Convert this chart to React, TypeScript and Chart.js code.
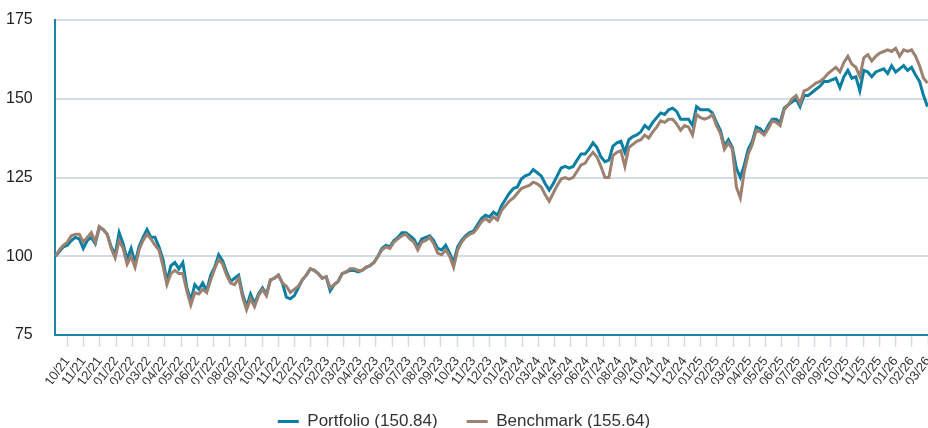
import React, { useEffect, useRef } from "react";
import { Chart, registerables } from "chart.js";

Chart.register(...registerables);

// Month tick labels (x axis, one per month, starting at 10/21)
const MONTH_LABELS = [
  "10/21", "11/21", "12/21",
  "01/22", "02/22", "03/22", "04/22", "05/22", "06/22", "07/22", "08/22", "09/22", "10/22", "11/22", "12/22",
  "01/23", "02/23", "03/23", "04/23", "05/23", "06/23", "07/23", "08/23", "09/23", "10/23", "11/23", "12/23",
  "01/24", "02/24", "03/24", "04/24", "05/24", "06/24", "07/24", "08/24", "09/24", "10/24", "11/24", "12/24",
  "01/25", "02/25", "03/25", "04/25", "05/25", "06/25", "07/25", "08/25", "09/25", "10/25", "11/25", "12/25",
  "01/26", "02/26", "03/26",
];

// Samples are roughly weekly: position in months relative to the 10/21 tick
const FIRST_SAMPLE_MONTH = -0.7357;
const SAMPLE_STEP_MONTHS = 0.24523;

const PORTFOLIO_LABEL = "Portfolio (150.84)";
const BENCHMARK_LABEL = "Benchmark (155.64)";

const PORTFOLIO = [
  100, 101.5, 103, 103.5, 105, 106, 105.5, 102.5, 105, 106, 104, 109, 108.5, 107, 103, 100.5,
  107.5, 104, 99, 102.5, 98, 103, 106, 108.5, 106, 106, 103, 99, 92, 97, 98, 96,
  98, 90, 86, 91, 89.5, 91.5, 89, 94, 96.5, 100.5, 98.5, 95, 92, 93, 94, 88,
  84, 88, 85, 88, 90, 88, 92.5, 93, 94, 91.5, 87, 86.5, 87.5, 90, 92.5, 94,
  96, 95.5, 94.5, 93, 93.5, 89, 91, 92, 94.5, 95, 95.5, 95.5, 95, 95.5, 96.5, 97,
  98, 100, 102.5, 103.5, 103, 105, 106, 107.5, 107.5, 106.5, 105.5, 103, 105.5, 106, 106.5, 105,
  102.5, 102, 103.5, 101, 98, 103, 105, 106.5, 107.5, 108, 110, 112, 113, 112.5, 114, 113,
  116, 118, 120, 121.5, 122, 124.5, 125.5, 126, 127.5, 126.5, 125.5, 123, 121, 123, 125.5, 128,
  128.5, 128, 128.5, 130.5, 132.5, 132.5, 134, 136, 134.5, 131.5, 130, 130.5, 135, 136, 136.5, 133,
  137, 138, 138.5, 139.5, 141.5, 140.5, 142.5, 144, 145.5, 145, 146.5, 147, 146, 143.5, 143.5, 143.5,
  141.5, 147.5, 146.5, 146.5, 146.5, 145.5, 142.5, 140, 135, 137, 134.5, 128, 125, 129, 134, 136.5,
  141, 140.5, 139, 141.5, 143.5, 143.5, 142.5, 147, 148, 149, 150, 147.5, 151, 151, 152, 153,
  154, 155.5, 155.5, 156, 156.5, 153.5, 157, 159, 156.5, 157, 152.5, 159, 158.5, 157, 158.5, 159,
  159.5, 158, 160.5, 158.5, 159.5, 160.5, 159, 160, 157.5, 155.5, 151, 147.5,
];

const BENCHMARK = [
  100, 102, 103.5, 104.5, 106.5, 107, 107, 104.5, 106, 107.5, 104.5, 109.5, 108.5, 107, 102.5, 99.5,
  105, 102.5, 97.5, 100, 96.5, 102, 105, 107, 105.5, 103.5, 102, 97, 91, 94.5, 95.5, 94.5,
  94.5, 89, 84.5, 88.5, 88, 89.5, 88.5, 92.5, 96, 99, 97.5, 94, 91.5, 91, 93, 87,
  83, 86.5, 84, 87.5, 89.5, 87.5, 92.5, 93, 94, 91.5, 90.5, 88.5, 89.5, 90.5, 92.5, 94,
  96, 95.5, 94.5, 93, 93.5, 90, 91, 92, 94.5, 95, 96, 96, 95.5, 95.5, 96.5, 97,
  98, 100, 102, 103, 102.5, 104.5, 105.5, 106.5, 107, 105.5, 104.5, 102, 104.5, 105, 106, 104,
  101, 100.5, 102, 100, 96.5, 102, 104.5, 106, 107, 107.5, 109, 111, 112, 111, 112.5, 111.5,
  114.5, 116, 117.5, 118.5, 120, 121.5, 122, 122.5, 123.5, 123, 122, 119.5, 117.5, 120, 122.5, 124.5,
  125, 124.5, 125, 127, 129, 129.5, 131.5, 133, 131.5, 128.5, 125, 125, 132, 133, 133.5, 128.5,
  134.5, 135.5, 136.5, 137, 138.5, 137.5, 139.5, 141, 143, 142.5, 143.5, 143.5, 142, 140, 141.5, 141,
  138.5, 145, 144, 143.5, 144, 145, 141.5, 139, 134, 136, 134, 122, 118.5, 127, 132.5, 135.5,
  140, 139.5, 138.5, 140.5, 143, 142.5, 141.5, 146.5, 148, 150, 151, 148.5, 152.5, 153, 154, 155,
  155.5, 156.5, 158, 159, 160, 158.5, 161.5, 163.5, 161, 160, 157, 163, 164, 162, 163.5, 164.5,
  165, 165.5, 165, 166, 163.5, 165.5, 165, 165.5, 163.5, 160.5, 156.5, 155,
];

const PORTFOLIO_COLOR = "#0b7fa3";
const BENCHMARK_COLOR = "#9c8171";
const FONT_FAMILY = "'Liberation Sans', Arial, Helvetica, sans-serif";

function toPoints(values: number[]) {
  return values.map((v, i) => ({ x: FIRST_SAMPLE_MONTH + i * SAMPLE_STEP_MONTHS, y: v }));
}

export default function App() {
  const canvasRef = useRef<HTMLCanvasElement | null>(null);

  useEffect(() => {
    if (!canvasRef.current) return;
    const chart = new Chart(canvasRef.current, {
      type: "line",
      data: {
        datasets: [
          {
            label: PORTFOLIO_LABEL,
            data: toPoints(PORTFOLIO),
            borderColor: PORTFOLIO_COLOR,
            backgroundColor: PORTFOLIO_COLOR,
            borderWidth: 3,
            pointRadius: 0,
            tension: 0,
            order: 1,
          },
          {
            label: BENCHMARK_LABEL,
            data: toPoints(BENCHMARK),
            borderColor: BENCHMARK_COLOR,
            backgroundColor: BENCHMARK_COLOR,
            borderWidth: 3,
            pointRadius: 0,
            tension: 0,
            order: 0,
          },
        ],
      },
      options: {
        animation: false,
        responsive: false,
        devicePixelRatio: 1,
        layout: { padding: { top: 20, left: 0, right: 0, bottom: -12 } },
        scales: {
          x: {
            type: "linear",
            min: -0.78,
            max: MONTH_LABELS.length - 1,
            afterBuildTicks: (axis: any) => {
              axis.ticks = MONTH_LABELS.map((_, i) => ({ value: i }));
            },
            afterFit: (axis: any) => {
              axis.paddingRight = 0;
              axis.height = 49;
            },
            ticks: {
              autoSkip: false,
              minRotation: 53,
              maxRotation: 53,
              padding: 7,
              color: "#333",
              font: { size: 13, family: FONT_FAMILY },
              callback: (v: any) => MONTH_LABELS[Math.round(Number(v))] ?? "",
            },
            grid: {
              drawOnChartArea: false,
              drawTicks: true,
              tickLength: 12,
              tickColor: "#d3dce8",
              tickWidth: 1.5,
            },
            border: { color: "#1a86ab", width: 2 },
          },
          y: {
            min: 75,
            max: 175,
            ticks: {
              stepSize: 25,
              padding: 6,
              color: "#222",
              font: { size: 16, family: FONT_FAMILY },
            },
            grid: {
              color: "#d3dce8",
              lineWidth: 2,
              drawTicks: true,
              tickLength: 16,
              tickColor: "rgba(0,0,0,0)",
            },
            border: { color: "#1a86ab", width: 2 },
          },
        },
        plugins: {
          tooltip: { enabled: false },
          legend: {
            position: "bottom",
            labels: {
              boxWidth: 21,
              boxHeight: 3,
              padding: 29,
              color: "#333",
              font: { size: 17, family: FONT_FAMILY },
              generateLabels: (c: any) =>
                Chart.defaults.plugins.legend.labels
                  .generateLabels(c)
                  .map((l: any) => ({ ...l, lineWidth: 0 })),
              sort: (a: any, b: any) => a.datasetIndex - b.datasetIndex,
            },
          },
        },
      } as any,
    });
    return () => chart.destroy();
  }, []);

  return (
    <div
      style={{
        position: "absolute",
        left: 0,
        top: 0,
        width: 928,
        height: 428,
        overflow: "hidden",
        background: "#fff",
      }}
    >
      <canvas ref={canvasRef} width={928} height={428} style={{ display: "block" }} />
    </div>
  );
}
